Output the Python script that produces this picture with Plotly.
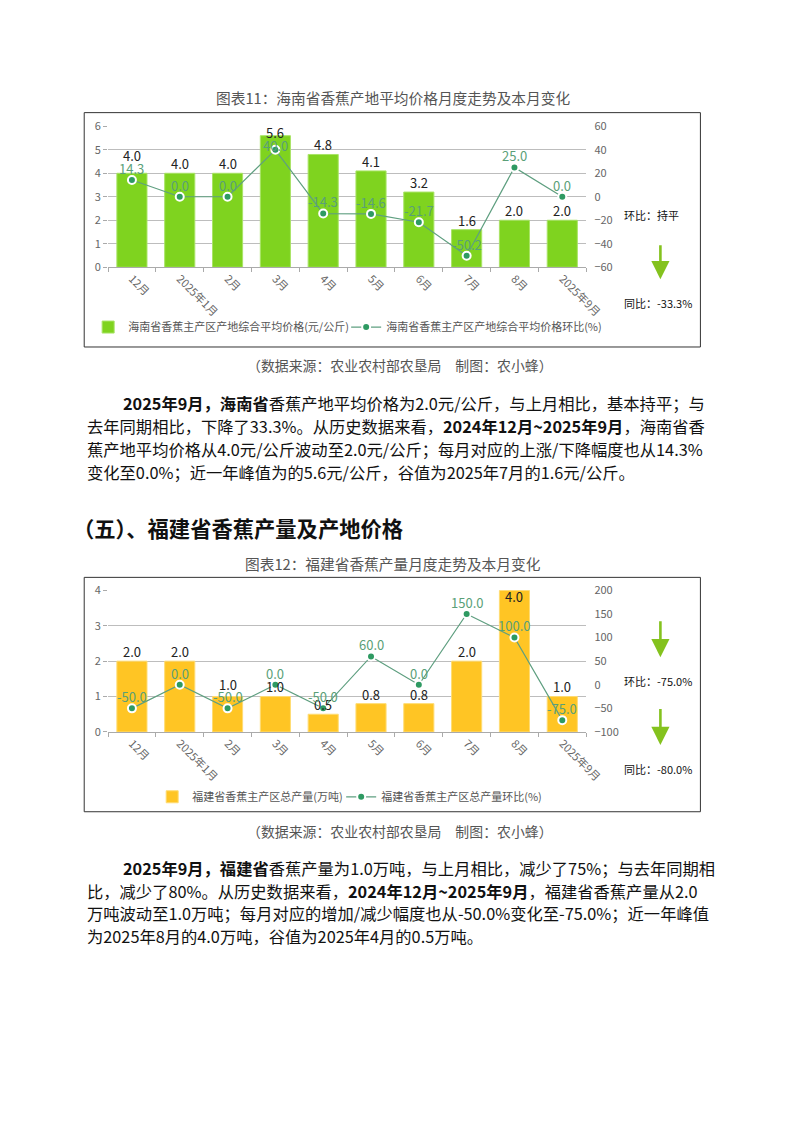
import plotly.graph_objects as go

# ---------------- data ----------------
months = ["12月", "2025年1月", "2月", "3月", "4月", "5月", "6月", "7月", "8月", "2025年9月"]
hainan_price = [4.0, 4.0, 4.0, 5.6, 4.8, 4.1, 3.2, 1.6, 2.0, 2.0]
hainan_mom = [14.3, 0.0, 0.0, 40.0, -14.3, -14.6, -21.7, -50.2, 25.0, 0.0]
fujian_output = [2.0, 2.0, 1.0, 1.0, 0.5, 0.8, 0.8, 2.0, 4.0, 1.0]
fujian_mom = [-50.0, 0.0, -50.0, 0.0, -50.0, 60.0, 0.0, 150.0, 100.0, -75.0]

hainan_bar_name = "海南省香蕉主产区产地综合平均价格(元/公斤)"
hainan_line_name = "海南省香蕉主产区产地综合平均价格环比(%)"
fujian_bar_name = "福建省香蕉主产区总产量(万吨)"
fujian_line_name = "福建省香蕉主产区总产量环比(%)"

# figure kept smaller than the window (body margin 8px); positions below are given
# in target-picture pixels and mapped to page pixels through the observed capture scale
PAGE_M = 8
W, H = 760, 1090
SX, SY, OY = 0.976, 0.988, 8.2
def pgx(x):
    return x / SX
def pgy(y):
    return (y - OY) / SY
def px(x):
    return (pgx(x) - PAGE_M) / W
def py(y):
    return 1 - (pgy(y) - PAGE_M) / H

FONT = "Noto Sans CJK SC"
GREEN_BAR = "#7fd31f"
YELLOW_BAR = "#ffc524"
LINE_C = "#5f9f80"
MARK_C = "#2e9a62"
LBL_C = "#5a9f78"
ARROW_C = "#84c21e"

# plot-area geometry (target pixels)
PL, PR = 107.8, 585.8
C1_TOP, C1_BOT = 125.7, 267.0
C2_TOP, C2_BOT = 591.0, 733.0
Y1_RANGE, Y2_RANGE = (0, 6), (-60, 60)
Y3_RANGE, Y4_RANGE = (0, 4), (-100, 200)

fig = go.Figure()

fig.add_trace(go.Bar(
    x=months, y=hainan_price, name=hainan_bar_name, xaxis="x", yaxis="y",
    marker=dict(color=GREEN_BAR, line=dict(color="#a9e466", width=1)),
    legend="legend", width=0.63, legendwidth=213,
))
fig.add_trace(go.Scatter(
    x=months, y=hainan_mom, name=hainan_line_name, xaxis="x", yaxis="y2",
    mode="lines+markers", line=dict(color=LINE_C, width=1.2),
    marker=dict(color=MARK_C, size=8, line=dict(color="white", width=2)),
    legend="legend", cliponaxis=False, legendwidth=240,
))
fig.add_trace(go.Bar(
    x=months, y=fujian_output, name=fujian_bar_name, xaxis="x2", yaxis="y3",
    marker=dict(color=YELLOW_BAR, line=dict(color="#ffdc73", width=1)),
    legend="legend2", width=0.63, legendwidth=144,
))
fig.add_trace(go.Scatter(
    x=months, y=fujian_mom, name=fujian_line_name, xaxis="x2", yaxis="y4",
    mode="lines+markers", line=dict(color=LINE_C, width=1.2),
    marker=dict(color=MARK_C, size=8, line=dict(color="white", width=2)),
    legend="legend2", cliponaxis=False, legendwidth=190,
))

# value labels: placed above their marks, nudged apart when they collide
def ypix(v, rng, top, bot):
    return bot - (v - rng[0]) / (rng[1] - rng[0]) * (bot - top)

def add_labels(bars, lines, yb, yl, rb, rl, top, bot):
    for i, (b, m) in enumerate(zip(bars, lines)):
        bp = ypix(b, rb, top, bot)
        lp = ypix(m, rl, top, bot)
        bc = max(bp - 9.5, top + 6.5)
        lc = lp - 11.5
        if lc >= bc and lc - bc < 12.5:
            nb = lc - 12.5
            if nb < top + 6.5:
                lc = bc + 12.5
            else:
                bc = nb
        fig.add_annotation(x=months[i], y=b, xref=yb[0], yref=yb[1], text=f"{b:.1f}",
                           showarrow=False, yanchor="middle", yshift=(bp - bc) / SY,
                           font=dict(size=13, color="#222", family=FONT))
        fig.add_annotation(x=months[i], y=m, xref=yl[0], yref=yl[1], text=f"{m:.1f}",
                           showarrow=False, yanchor="middle", yshift=(lp - lc) / SY,
                           font=dict(size=13, color=LBL_C, family=FONT))

add_labels(hainan_price, hainan_mom, ("x", "y"), ("x", "y2"), Y1_RANGE, Y2_RANGE, C1_TOP, C1_BOT)
add_labels(fujian_output, fujian_mom, ("x2", "y3"), ("x2", "y4"), Y3_RANGE, Y4_RANGE, C2_TOP, C2_BOT)

tickfont = dict(color="#666", size=11, family=FONT)
xcommon = dict(type="category", tickangle=45, tickfont=tickfont, showgrid=False,
               showline=True, linecolor="#aaa", ticks="outside", tickson="boundaries",
               ticklen=4, tickcolor="#aaa", zeroline=False, range=[-0.5, 9.5])
yleft = dict(tickfont=tickfont, showline=False, ticks="outside", ticklen=4,
             tickcolor="#aaa", zeroline=False, showgrid=True, gridcolor="#bdbdbd", gridwidth=1.2)
yright = dict(tickfont=tickfont, showline=False, ticks="outside", ticklen=5,
              tickcolor="rgba(0,0,0,0)", zeroline=False, showgrid=False, side="right")

LEG_TEXT_OFF = 39
fig.update_layout(
    width=W, height=H, autosize=False,
    margin=dict(l=0, r=0, t=0, b=0),
    paper_bgcolor="white", plot_bgcolor="rgba(0,0,0,0)",
    font=dict(family=FONT, color="#333"),
    xaxis=dict(domain=[px(PL), px(PR)], anchor="y", **xcommon),
    yaxis=dict(domain=[py(C1_BOT), py(C1_TOP)], range=list(Y1_RANGE), dtick=1, anchor="x", **yleft),
    yaxis2=dict(overlaying="y", range=list(Y2_RANGE), dtick=20, anchor="x", **yright),
    xaxis2=dict(domain=[px(PL), px(PR)], anchor="y3", **xcommon),
    yaxis3=dict(domain=[py(C2_BOT), py(C2_TOP)], range=list(Y3_RANGE), dtick=1, anchor="x2", **yleft),
    yaxis4=dict(overlaying="y3", range=list(Y4_RANGE), dtick=50, anchor="x2", **yright),
    legend=dict(orientation="h", x=(pgx(126) - LEG_TEXT_OFF - PAGE_M) / W, y=py(327),
                xanchor="left", yanchor="middle",
                font=dict(size=11, color="#555", family=FONT), bgcolor="rgba(0,0,0,0)",
                tracegroupgap=0),
    legend2=dict(orientation="h", x=(pgx(190) - LEG_TEXT_OFF - PAGE_M) / W, y=py(798),
                 xanchor="left", yanchor="middle",
                 font=dict(size=11, color="#555", family=FONT), bgcolor="rgba(0,0,0,0)",
                 tracegroupgap=0),
    showlegend=True,
)

# frames around charts
fig.add_shape(type="rect", xref="paper", yref="paper", x0=px(84), x1=px(700),
              y0=py(347), y1=py(112), line=dict(color="#333", width=1))
fig.add_shape(type="rect", xref="paper", yref="paper", x0=px(84), x1=px(700),
              y0=py(813), y1=py(578), line=dict(color="#333", width=1))

def note(text, x, y, size=16.3, color="#111", xanchor="left"):
    fig.add_annotation(text=text, x=px(x), y=py(y), xref="paper", yref="paper",
                       xanchor=xanchor, yanchor="middle", showarrow=False,
                       font=dict(size=size, color=color, family=FONT))

# titles and sources
note("图表11：海南省香蕉产地平均价格月度走势及本月变化", 393, 97, size=14.7, color="#555", xanchor="center")
note("（数据来源：农业农村部农垦局　制图：农小蜂）", 400, 365, size=13.9, color="#555", xanchor="center")
note("图表12：福建省香蕉产量月度走势及本月变化", 393, 564, size=14.7, color="#555", xanchor="center")
note("（数据来源：农业农村部农垦局　制图：农小蜂）", 400, 832, size=13.9, color="#555", xanchor="center")

# side notes
note("环比：持平", 622, 215, size=11, color="#111")
note("同比：-33.3%", 622, 303, size=11, color="#111")
note("环比：-75.0%", 622, 682, size=11, color="#111")
note("同比：-80.0%", 622, 770, size=11, color="#111")

def arrow(x, y0, y1):
    fig.add_annotation(x=px(x), y=py(y1), ax=0, ay=-(y1 - y0) / SY, xref="paper", yref="paper",
                       axref="pixel", ayref="pixel", text="", showarrow=True,
                       arrowhead=2, arrowsize=1.4, arrowwidth=2.6, arrowcolor=ARROW_C)

arrow(660, 244, 279)
arrow(660, 621, 658)
arrow(660, 709, 746)

# paragraph 1
p1 = [
    (121, "<b>2025年9月，海南省</b>香蕉产地平均价格为2.0元/公斤，与上月相比，基本持平；与"),
    (85, "去年同期相比，下降了33.3%。从历史数据来看，<b>2024年12月~2025年9月</b>，海南省香"),
    (85, "蕉产地平均价格从4.0元/公斤波动至2.0元/公斤；每月对应的上涨/下降幅度也从14.3%"),
    (85, "变化至0.0%；近一年峰值为的5.6元/公斤，谷值为2025年7月的1.6元/公斤。"),
]
for i, (x, t) in enumerate(p1):
    note(t, x, 403 + i * 23)

note("<b>（五）、福建省香蕉产量及产地价格</b>", 71, 528, size=21.3)

p2 = [
    (121, "<b>2025年9月，福建省</b>香蕉产量为1.0万吨，与上月相比，减少了75%；与去年同期相"),
    (85, "比，减少了80%。从历史数据来看，<b>2024年12月~2025年9月</b>，福建省香蕉产量从2.0"),
    (85, "万吨波动至1.0万吨；每月对应的增加/减少幅度也从-50.0%变化至-75.0%；近一年峰值"),
    (85, "为2025年8月的4.0万吨，谷值为2025年4月的0.5万吨。"),
]
for i, (x, t) in enumerate(p2):
    note(t, x, 869 + i * 23)

fig.write_html("out.html", config={"displayModeBar": False})
